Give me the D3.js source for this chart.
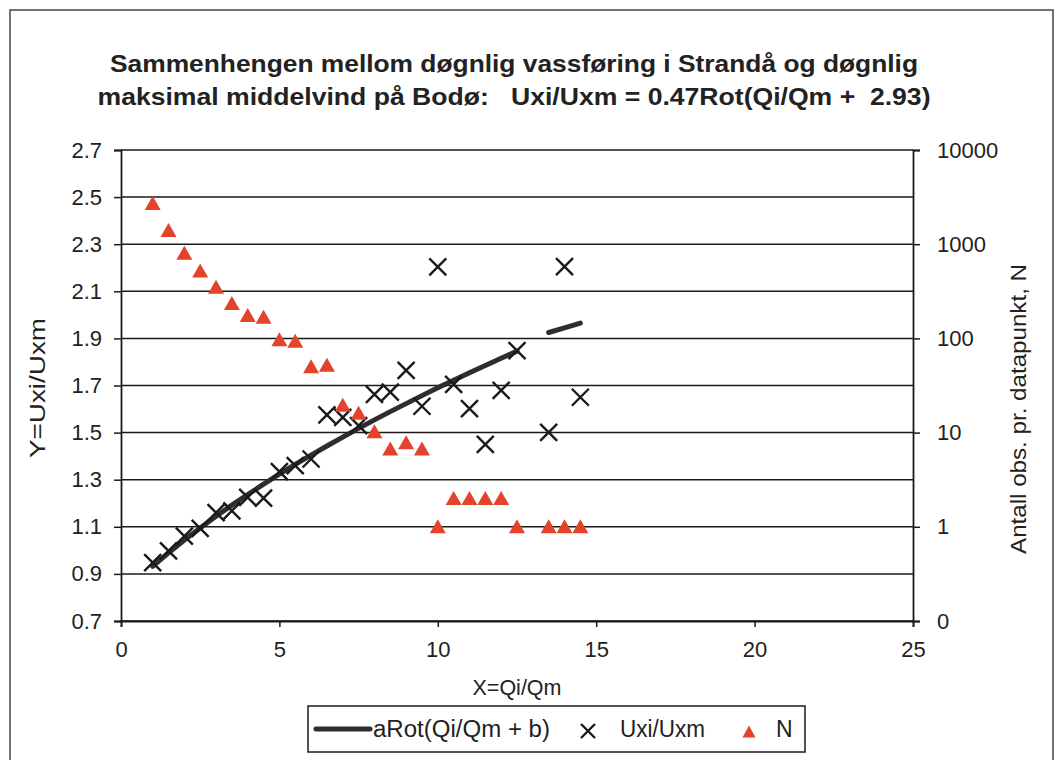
<!DOCTYPE html>
<html>
<head>
<meta charset="utf-8">
<script src="https://cdn.jsdelivr.net/npm/d3@7"></script>
<style>
  html, body { margin: 0; padding: 0; background: #fff; }
  svg { display: block; font-family: "Liberation Sans", Arial, sans-serif; }
</style>
</head>
<body>
<svg id="chart" width="1063" height="760"></svg>
<script>
// ---- data ----
const xValues = [1, 1.5, 2, 2.5, 3, 3.5, 4, 4.5, 5, 5.5, 6, 6.5, 7, 7.5, 8, 8.5, 9, 9.5,
                 10, 10.5, 11, 11.5, 12, 12.5, 13.5, 14, 14.5];
const uxiValues = [0.948, 0.998, 1.06, 1.093, 1.16, 1.168, 1.225, 1.222, 1.334, 1.36, 1.388, 1.575, 1.565, 1.53,
                   1.662, 1.672, 1.764, 1.612, 2.204, 1.705, 1.602, 1.45, 1.679, 1.848, 1.501, 2.205, 1.65];
const nValues = [2700, 1400, 800, 520, 350, 235, 175, 168, 97, 93, 50, 52, 19.5, 16, 10.2, 6.7, 7.8, 6.7,
                 1, 2, 2, 2, 2, 1, 1, 1, 1];
const fitX = [1, 1.5, 2, 2.5, 3, 3.5, 4, 4.5, 5, 5.5, 6, 6.5, 7, 7.5, 8, 8.5, 9, 9.5,
              10, 10.5, 11, 11.5, 12, 12.5, 13, 13.5, 14, 14.5];
const fitY = [0.932, 0.989, 1.044, 1.095, 1.145, 1.192, 1.237, 1.281, 1.324, 1.365, 1.404, 1.443, 1.481, 1.518,
              1.554, 1.589, 1.623, 1.657, 1.690, 1.722, 1.754, 1.785, 1.816, 1.846, null, 1.925, 1.945, 1.965];
const xTicks = [0, 5, 10, 15, 20, 25];
const yTicks = [0.7, 0.9, 1.1, 1.3, 1.5, 1.7, 1.9, 2.1, 2.3, 2.5, 2.7];
const nTicks = [0.1, 1, 10, 100, 1000, 10000];
const nTickLabels = ["0", "1", "10", "100", "1000", "10000"];
const titleLines = ["Sammenhengen mellom døgnlig vassføring i Strandå og døgnlig",
                    "maksimal middelvind på Bodø:   Uxi/Uxm = 0.47Rot(Qi/Qm +  2.93)"];
const legendLabels = ["aRot(Qi/Qm + b)", "Uxi/Uxm", "N"];

// ---- layout ----
const svg = d3.select("#chart");
const pL = 121, pR = 913, pT = 150, pB = 621;
const x = d3.scaleLinear().domain([0, 25]).range([pL, pR]);
const y = d3.scaleLinear().domain([0.7, 2.7]).range([pB, pT]);
const yN = d3.scaleLog().domain([0.1, 10000]).range([pB, pT]);
const triColor = "#e2432a";
const ink = "#1a1a1a";
const txt = "#222";

// outer frame
svg.append("rect").attr("x", 10).attr("y", 10).attr("width", 1043).attr("height", 770)
  .attr("fill", "#fff").attr("stroke", "#444").attr("stroke-width", 1.5);

// title
const titleWidths = [808, 833];
svg.append("g").selectAll("text").data(titleLines).join("text")
  .attr("x", 514).attr("y", (d, i) => 72 + i * 33)
  .attr("text-anchor", "middle")
  .attr("font-size", 24).attr("font-weight", "bold").attr("fill", txt)
  .attr("textLength", (d, i) => titleWidths[i]).attr("lengthAdjust", "spacingAndGlyphs")
  .style("white-space", "pre")
  .text(d => d);

// gridlines
svg.append("g").selectAll("line").data(yTicks).join("line")
  .attr("x1", pL).attr("x2", pR)
  .attr("y1", d => y(d)).attr("y2", d => y(d))
  .attr("stroke", ink).attr("stroke-width", 1.5);

// axes
const fmt1 = d3.format(".1f");
const gx = svg.append("g").attr("transform", `translate(0,${pB})`)
  .call(d3.axisBottom(x).tickValues(xTicks).tickSize(6).tickPadding(14).tickFormat(d3.format("d")));
const gy = svg.append("g").attr("transform", `translate(${pL},0)`)
  .call(d3.axisLeft(y).tickValues(yTicks).tickSize(7).tickPadding(12).tickFormat(fmt1));
const gr = svg.append("g").attr("transform", `translate(${pR},0)`)
  .call(d3.axisRight(yN).tickValues(nTicks).tickSize(7).tickPadding(17)
        .tickFormat((d, i) => nTickLabels[i]));
[gx, gy, gr].forEach(g => {
  g.select(".domain").attr("stroke", ink).attr("stroke-width", 1.8);
  g.selectAll(".tick line").attr("stroke", ink).attr("stroke-width", 1.5);
  g.selectAll(".tick text").attr("font-size", 22).attr("fill", txt)
    .attr("font-family", "Liberation Sans, Arial, sans-serif");
});

// axis titles
svg.append("text").attr("x", 517).attr("y", 695).attr("text-anchor", "middle")
  .attr("font-size", 21.5).attr("fill", txt).text("X=Qi/Qm");
svg.append("text").attr("transform", "translate(45,388) rotate(-90)").attr("text-anchor", "middle")
  .attr("font-size", 21.5).attr("fill", txt)
  .attr("textLength", 140).attr("lengthAdjust", "spacingAndGlyphs").text("Y=Uxi/Uxm");
svg.append("text").attr("transform", "translate(1026,409) rotate(-90)").attr("text-anchor", "middle")
  .attr("font-size", 22).attr("fill", txt)
  .attr("textLength", 290).attr("lengthAdjust", "spacingAndGlyphs").text("Antall obs. pr. datapunkt, N");

// fitted line
const line = d3.line().defined((d, i) => fitY[i] !== null)
  .x((d, i) => x(fitX[i])).y((d, i) => y(fitY[i]));
svg.append("path").datum(fitX).attr("d", line)
  .attr("fill", "none").attr("stroke", "#2e2e2e").attr("stroke-width", 5)
  .attr("stroke-linecap", "round").attr("stroke-linejoin", "round");

// X markers
const crossPath = "M-8.5,-8.5L8.5,8.5M-8.5,8.5L8.5,-8.5";
svg.append("g").selectAll("path").data(xValues).join("path")
  .attr("transform", (d, i) => `translate(${x(d)},${y(uxiValues[i])})`)
  .attr("d", crossPath).attr("stroke", ink).attr("stroke-width", 2.4).attr("fill", "none");

// triangles (N, log scale)
const triPath = "M0,-7.5L8,6.5L-8,6.5Z";
svg.append("g").selectAll("path").data(xValues).join("path")
  .attr("transform", (d, i) => `translate(${x(d)},${yN(nValues[i])})`)
  .attr("d", triPath).attr("fill", triColor);

// legend
const lg = svg.append("g");
lg.append("rect").attr("x", 308).attr("y", 706).attr("width", 497).attr("height", 46)
  .attr("fill", "#fff").attr("stroke", ink).attr("stroke-width", 1.5);
lg.append("line").attr("x1", 316).attr("x2", 370).attr("y1", 729).attr("y2", 729)
  .attr("stroke", "#2e2e2e").attr("stroke-width", 5).attr("stroke-linecap", "round");
lg.append("text").attr("x", 373).attr("y", 737).attr("font-size", 23).attr("fill", txt)
  .attr("textLength", 177).attr("lengthAdjust", "spacingAndGlyphs").text(legendLabels[0]);
lg.append("path").attr("transform", "translate(588,731)").attr("d", "M-7,-7L7,7M-7,7L7,-7")
  .attr("stroke", ink).attr("stroke-width", 2.4);
lg.append("text").attr("x", 620).attr("y", 737).attr("font-size", 23).attr("fill", txt)
  .attr("textLength", 85).attr("lengthAdjust", "spacingAndGlyphs").text(legendLabels[1]);
lg.append("path").attr("transform", "translate(749,732)").attr("d", "M0,-6.5L6.5,5.5L-6.5,5.5Z").attr("fill", triColor);
lg.append("text").attr("x", 776).attr("y", 737).attr("font-size", 23).attr("fill", txt).text(legendLabels[2]);
</script>
</body>
</html>
